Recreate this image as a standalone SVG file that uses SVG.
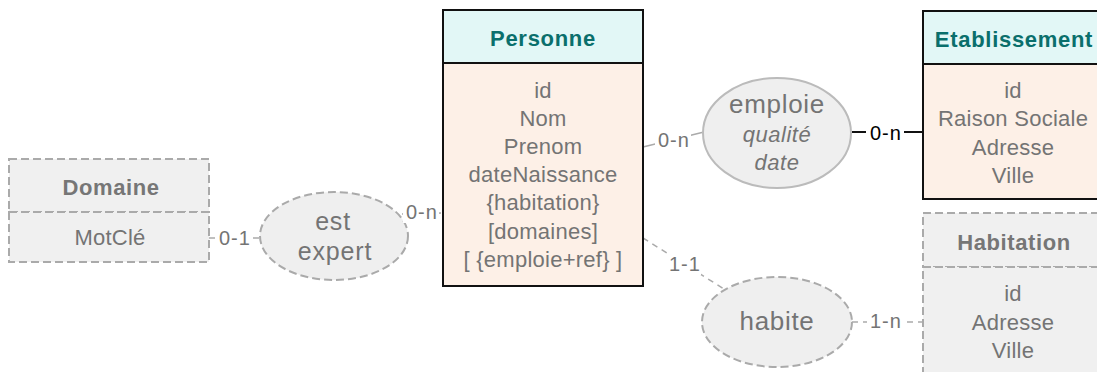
<svg xmlns="http://www.w3.org/2000/svg" width="1097" height="372" viewBox="0 0 1097 372">
<style>
text{font-family:"Liberation Sans",Arial,sans-serif;text-anchor:middle}
.hdr{font-size:22px;font-weight:bold;fill:#0a6f6c;letter-spacing:0.7px}
.hdrg{font-size:22px;font-weight:bold;fill:#767676;letter-spacing:0.6px}
.att{font-size:22px;fill:#747474;letter-spacing:0.25px}
.rel{font-size:26px;fill:#747474;letter-spacing:0.7px}
.rel2{font-size:25px;fill:#747474;letter-spacing:0.8px}
.relit{font-size:22px;font-style:italic;fill:#747474;letter-spacing:0.5px}
.lbl{font-size:20px;fill:#747474;letter-spacing:1.1px}
.lblk{font-size:20px;fill:#000;letter-spacing:1.1px}
.solidh{fill:#e2f7f6;stroke:#111;stroke-width:2}
.solidb{fill:#fdf0e7;stroke:#111;stroke-width:2}
.dbox{fill:#f0f0f0;stroke:#aaa;stroke-width:2;stroke-dasharray:8,4}
.ell{fill:#efefef;stroke:#bbb;stroke-width:2}
.dell{fill:#efefef;stroke:#aaa;stroke-width:2;stroke-dasharray:8,4}
.cg{stroke:#aaa;stroke-width:1.5;fill:none}
.cd{stroke:#aaa;stroke-width:1.5;fill:none;stroke-dasharray:6,5}
.ck{stroke:#111;stroke-width:2;fill:none}
.bg{fill:#fff}
</style>
<g id="connectors">
<line class="cd" x1="209" y1="238" x2="261" y2="238"/>
<line class="cd" x1="402" y1="214" x2="443" y2="213"/>
<line class="cg" x1="643" y1="147" x2="704" y2="132"/>
<line class="ck" x1="852" y1="132" x2="923" y2="132"/>
<line class="cd" x1="643" y1="238" x2="724" y2="289"/>
<line class="cd" x1="852" y1="322" x2="923" y2="322"/>
</g>
<g id="domaine">
<rect class="dbox" x="9" y="159" width="200" height="53"/>
<rect class="dbox" x="9" y="212" width="200" height="50"/>
<text class="hdrg" x="111" y="195">Domaine</text>
<text class="att" x="110" y="245">MotClé</text>
</g>
<g id="personne">
<rect class="solidh" x="443" y="10" width="200" height="53"/>
<rect class="solidb" x="443" y="63" width="200" height="223"/>
<text class="hdr" x="543" y="46">Personne</text>
<text class="att" x="543" y="97.5">id</text>
<text class="att" x="543" y="125.7">Nom</text>
<text class="att" x="543" y="153.9">Prenom</text>
<text class="att" x="543" y="182.1">dateNaissance</text>
<text class="att" x="543" y="210.3">{habitation}</text>
<text class="att" x="543" y="238.5">[domaines]</text>
<text class="att" x="543" y="266.7">[ {emploie+ref} ]</text>
</g>
<g id="etablissement">
<rect class="solidh" x="923" y="11" width="180" height="53"/>
<rect class="solidb" x="923" y="64" width="180" height="135"/>
<text class="hdr" x="1014" y="47">Etablissement</text>
<text class="att" x="1013" y="97.5">id</text>
<text class="att" x="1013" y="125.5">Raison Sociale</text>
<text class="att" x="1013" y="154.5">Adresse</text>
<text class="att" x="1013" y="182.5">Ville</text>
</g>
<g id="habitation">
<rect class="dbox" x="923" y="213" width="180" height="54"/>
<rect class="dbox" x="923" y="267" width="180" height="120"/>
<text class="hdrg" x="1014" y="250">Habitation</text>
<text class="att" x="1013" y="301">id</text>
<text class="att" x="1013" y="329.5">Adresse</text>
<text class="att" x="1013" y="358">Ville</text>
</g>
<g id="est-expert">
<ellipse class="dell" cx="334" cy="236" rx="74" ry="44"/>
<text class="rel2" x="333" y="230">est</text>
<text class="rel2" x="335" y="260">expert</text>
</g>
<g id="emploie">
<ellipse class="ell" cx="777" cy="133" rx="74" ry="55"/>
<text class="rel" x="777" y="113">emploie</text>
<text class="relit" x="777" y="142">qualité</text>
<text class="relit" x="777" y="170">date</text>
</g>
<g id="habite">
<ellipse class="dell" cx="777" cy="322" rx="75" ry="45"/>
<text class="rel" x="777" y="330">habite</text>
</g>
<g id="labels">
<rect class="bg" x="216" y="228" width="35" height="21"/>
<text class="lbl" x="235" y="245">0-1</text>
<rect class="bg" x="403" y="202" width="36" height="21"/>
<text class="lbl" x="422" y="219">0-n</text>
<rect class="bg" x="655" y="130" width="36" height="21"/>
<text class="lbl" x="674" y="147">0-n</text>
<rect class="bg" x="866" y="123" width="38" height="21"/>
<text class="lblk" x="886" y="140">0-n</text>
<rect class="bg" x="667" y="254" width="34" height="21"/>
<text class="lbl" x="685" y="271">1-1</text>
<rect class="bg" x="867" y="311" width="37" height="21"/>
<text class="lbl" x="886" y="328">1-n</text>
</g>
</svg>
